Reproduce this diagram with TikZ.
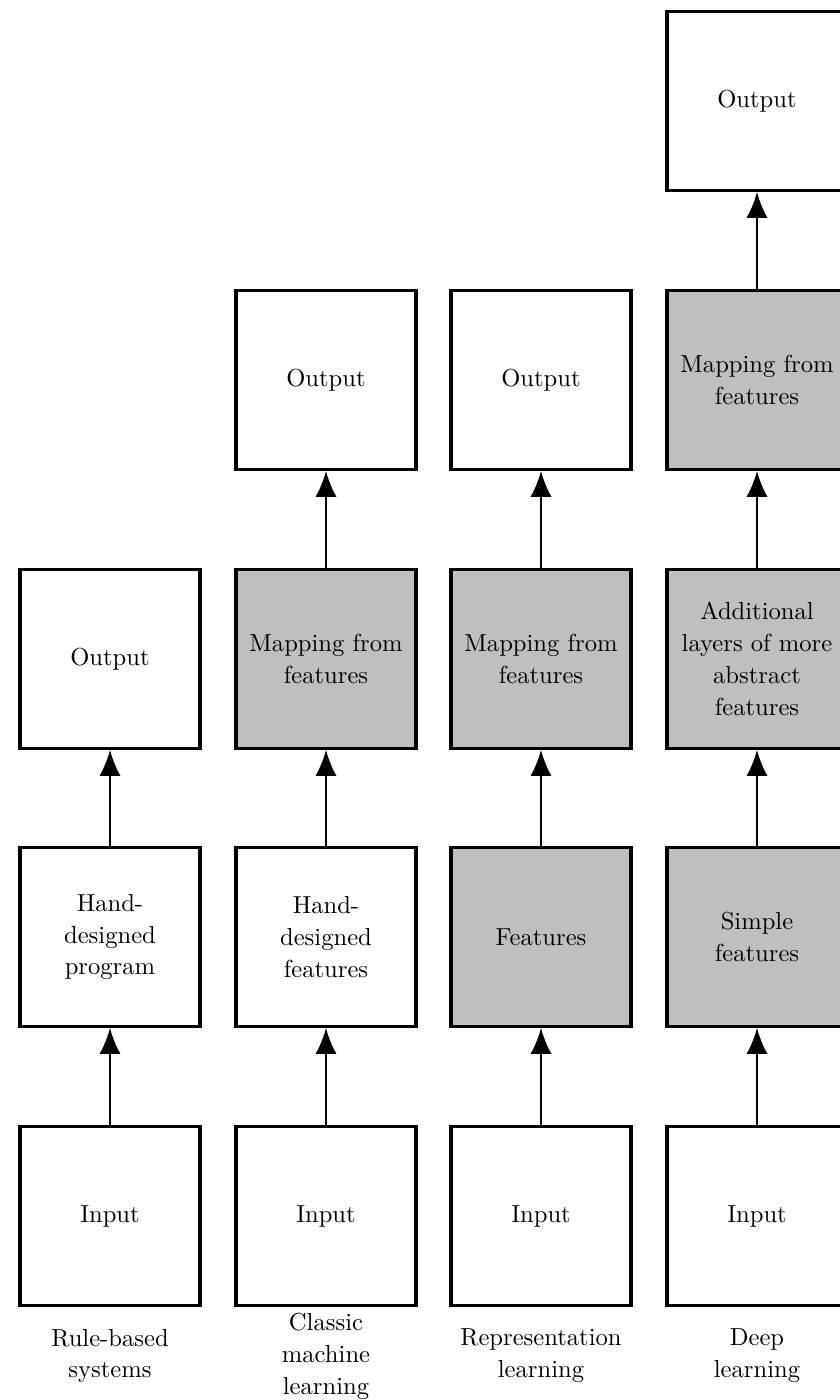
\documentclass[tikz,border=0pt]{standalone}
\usetikzlibrary{arrows.meta}

\tikzset{
  box/.style={draw=black, line width=1.3pt, fill=white, align=center,
    minimum width=2.7cm, minimum height=2.685cm, inner sep=2pt},
  learnt/.style={box, fill=black!25},
  flow/.style={-{Latex[length=11pt, width=9pt]}, line width=0.85pt},
  caption/.style={align=center}
}

\begin{document}
\begin{tikzpicture}[x=0.015cm, y=-0.015cm, font=\fontsize{10.5pt}{13.6pt}\selectfont]

  \useasboundingbox (0,0) rectangle (840,1400);
  \clip (0,0) rectangle (840,1400);

  % rule-based systems
  \node[box] (in1) at (110,1216) {Input};
  \node[box] (prog1) at (110,937) {Hand-\\designed\\program};
  \node[box] (out1) at (110,659) {Output};

  % classic machine learning
  \node[box] (in2) at (326,1216) {Input};
  \node[box] (hand2) at (326,937) {Hand-\\designed\\features};
  \node[learnt] (map2) at (326,659) {Mapping from\\features};
  \node[box] (out2) at (326,380) {Output};

  % representation learning
  \node[box] (in3) at (541,1216) {Input};
  \node[learnt] (feat3) at (541,937) {Features};
  \node[learnt] (map3) at (541,659) {Mapping from\\features};
  \node[box] (out3) at (541,380) {Output};

  % deep learning
  \node[box] (in4) at (757,1216) {Input};
  \node[learnt] (simple4) at (757,937) {Simple\\features};
  \node[learnt] (layers4) at (757,659) {Additional\\layers of more\\abstract\\features};
  \node[learnt] (map4) at (757,380) {Mapping from\\features};
  \node[box] (out4) at (757,101) {Output};

  \draw[flow] (in1) -- (prog1);
  \draw[flow] (prog1) -- (out1);

  \draw[flow] (in2) -- (hand2);
  \draw[flow] (hand2) -- (map2);
  \draw[flow] (map2) -- (out2);

  \draw[flow] (in3) -- (feat3);
  \draw[flow] (feat3) -- (map3);
  \draw[flow] (map3) -- (out3);

  \draw[flow] (in4) -- (simple4);
  \draw[flow] (simple4) -- (layers4);
  \draw[flow] (layers4) -- (map4);
  \draw[flow] (map4) -- (out4);

  \node[caption] (cap1) at (110,1356) {Rule-based\\systems};
  \node[caption] (cap2) at (326,1356) {Classic\\machine\\learning};
  \node[caption] (cap3) at (541,1356) {Representation\\learning};
  \node[caption] (cap4) at (757,1356) {Deep\\learning};

\end{tikzpicture}
\end{document}
